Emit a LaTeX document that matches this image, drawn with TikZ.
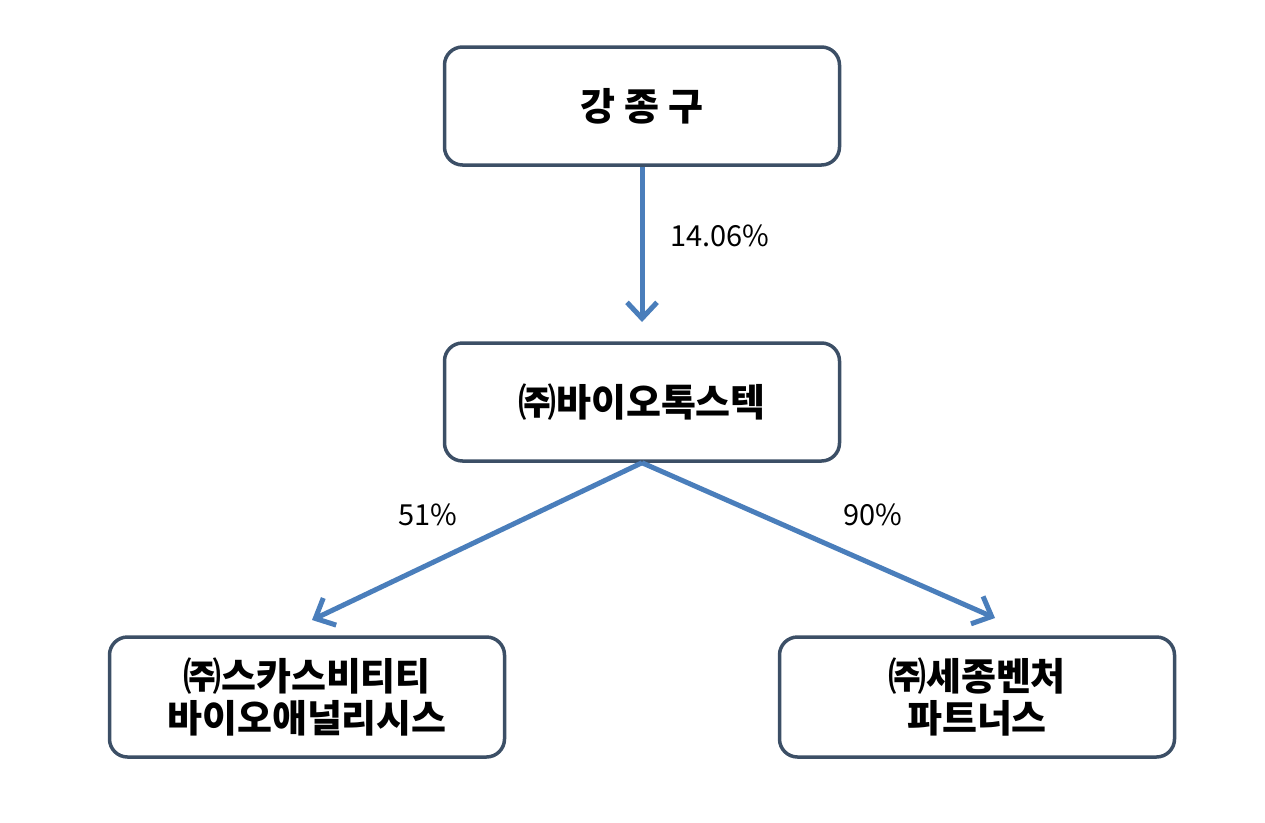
\documentclass[tikz,border=0pt]{standalone}
\usepackage{fontspec}
\newfontfamily\kr{Noto Sans CJK KR}
\usetikzlibrary{arrows.meta}
\definecolor{bord}{HTML}{3C4F66}
\definecolor{arr}{HTML}{4A7EBB}
\begin{document}
\begin{tikzpicture}[x=1pt,y=-1pt,
  box/.style={draw=bord,line width=3.5pt,rounded corners=18pt,minimum width=395pt,minimum height=118pt,align=center,font=\kr\bfseries\fontsize{38}{46}\selectfont},
  conn/.style={draw=arr,line width=5pt,-{Straight Barb[length=16pt,width=30pt,line width=5pt]}},
  lab/.style={font=\kr\fontsize{29}{34}\selectfont}]
\useasboundingbox (0,0) rectangle (1265,822);
\node[box] (a) at (642,106) {강 종 구};
\node[box] (b) at (642,402) {㈜바이오톡스텍};
\node[box,minimum height=120pt] (c) at (307,697) {㈜스카스비티티\\[-4pt]바이오애널리시스};
\node[box,minimum height=120pt] (d) at (977,697) {㈜세종벤처\\[-4pt]파트너스};
\coordinate (ae) at (642,322);
\coordinate (ce) at (312,620);
\coordinate (de) at (995,618);
\draw[conn] (a.south) -- (ae);
\draw[conn] (b.south) -- (ce);
\draw[conn] (b.south) -- (de);
\node[lab] (l1) at (720,236) {14.06\%};
\node[lab] (l2) at (428,515) {51\%};
\node[lab] (l3) at (873,515) {90\%};
\end{tikzpicture}
\end{document}
